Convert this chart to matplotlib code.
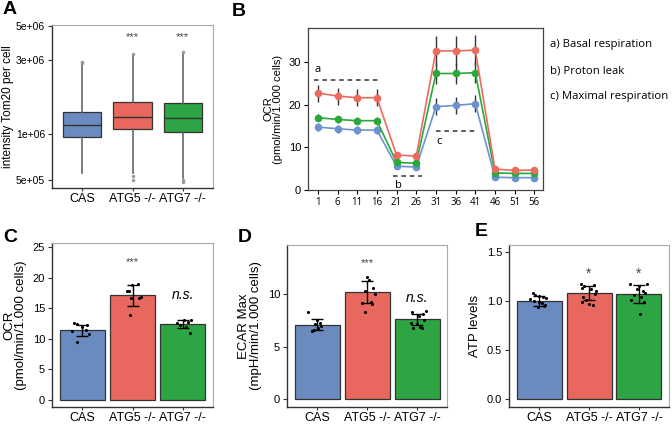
import numpy as np
import matplotlib
matplotlib.use('Agg')
from matplotlib import pyplot as plt

plt.rcParams['font.family'] = ['Liberation Sans', 'DejaVu Sans']

W, H = 672, 426
fig = plt.figure(figsize=(W / 100, H / 100), dpi=100)

def box(x0, y0, x1, y1):
    return fig.add_axes([x0 / W, 1 - y1 / H, (x1 - x0) / W, (y1 - y0) / H])

groups = ['CAS', 'ATG5 -/-', 'ATG7 -/-']
colors = ['#6a8bc0', '#e8675f', '#2ea544']

# A: Tom20 intensity per cell (box stats)
tom20_q1 = [9.5e5, 1.07e6, 1.03e6]
tom20_med = [1.15e6, 1.29e6, 1.26e6]
tom20_q3 = [1.39e6, 1.62e6, 1.58e6]
tom20_lo = [5.55e5, 5.6e5, 5.2e5]
tom20_hi = [2.84e6, 3.25e6, 3.3e6]
tom20_fliers = [[2.9e6, 2.95e6], [3.32e6, 5.3e5, 5.05e5], [3.38e6, 5.0e5, 4.9e5]]

# B: OCR time course
minutes = [1, 6, 11, 16, 21, 26, 31, 36, 41, 46, 51, 56]
ocr_cas = [14.7, 14.3, 14.0, 14.0, 5.5, 5.3, 19.5, 19.8, 20.2, 2.9, 2.8, 2.8]
ocr_cas_err = [1.0, 1.0, 1.0, 1.0, 0.5, 0.5, 2.0, 2.0, 2.0, 0.4, 0.4, 0.4]
ocr_atg5 = [22.7, 22.0, 21.6, 21.6, 8.1, 7.9, 32.6, 32.6, 32.8, 4.8, 4.5, 4.6]
ocr_atg5_err = [2.0, 2.0, 2.0, 2.0, 0.5, 0.5, 3.5, 3.5, 3.5, 0.5, 0.5, 0.5]
ocr_atg7 = [16.9, 16.5, 16.2, 16.2, 6.4, 6.2, 27.3, 27.3, 27.5, 3.9, 3.8, 3.8]
ocr_atg7_err = [0.8, 0.8, 0.8, 0.8, 0.5, 0.5, 2.5, 2.5, 2.5, 0.4, 0.4, 0.4]

# C: basal OCR
ocr_mean = [11.4, 17.1, 12.4]
ocr_err = [0.9, 1.7, 0.6]
ocr_pts_x = [[-0.16, -0.1, 0.0, 0.1, -0.2, 0.08, 0.14, -0.1],
             [-0.11, -0.06, -0.01, 0.1, 0.13, 0.17, -0.02, -0.05],
             [-0.12, 0.02, 0.1, 0.16, -0.05, 0.06, 0.14]]
ocr_pts_y = [[12.6, 12.4, 12.0, 12.3, 11.3, 11.5, 10.8, 9.4],
             [17.8, 17.9, 18.8, 18.95, 16.7, 16.8, 16.6, 13.9],
             [12.5, 13.0, 12.7, 13.1, 12.2, 11.9, 10.9]]

# D: maximal ECAR
ecar_mean = [7.1, 10.2, 7.6]
ecar_err = [0.55, 1.05, 0.55]
ecar_pts_x = [[-0.18, 0.0, 0.05, -0.05, 0.08, 0.02, -0.06, -0.1],
              [0.0, 0.12, -0.04, 0.15, 0.08, -0.1, 0.1, -0.05, 0.03],
              [-0.1, 0.12, 0.17, 0.04, -0.12, 0.14, 0.0, -0.08, 0.06, 0.1]]
ecar_pts_y = [[8.3, 7.5, 7.3, 7.2, 7.0, 6.8, 6.6, 6.5],
              [11.6, 10.6, 10.3, 10.0, 9.3, 9.2, 9.1, 8.3, 11.4],
              [8.3, 8.1, 8.4, 7.9, 7.3, 7.5, 7.2, 6.8, 6.9, 6.8]]

# E: ATP levels
atp_mean = [1.0, 1.08, 1.07]
atp_err = [0.05, 0.07, 0.09]
atp_pts_x = [[-0.12, -0.08, 0.0, 0.08, 0.14, -0.18, -0.1, 0.0, 0.06, 0.12, -0.02, 0.1],
             [-0.16, -0.1, -0.14, 0.1, 0.15, 0.05, -0.12, 0.12, -0.05, 0.0, 0.08, -0.15],
             [-0.18, 0.16, 0.0, -0.04, 0.08, 0.12, -0.1, 0.05, -0.15, 0.1, 0.02]]
atp_pts_y = [[1.08, 1.06, 1.05, 1.04, 1.03, 1.02, 1.0, 0.99, 0.98, 0.96, 0.94, 0.95],
             [1.17, 1.15, 1.13, 1.16, 1.1, 1.12, 1.04, 1.07, 1.01, 0.97, 0.96, 0.99],
             [1.17, 1.17, 1.15, 1.12, 1.1, 1.08, 1.06, 1.04, 1.01, 0.99, 0.87]]

def frame(ax):
    for s in ['left', 'bottom']:
        ax.spines[s].set_color('#333333')
        ax.spines[s].set_linewidth(1.0)
    for s in ['top', 'right']:
        ax.spines[s].set_color('#aaaaaa')
        ax.spines[s].set_linewidth(0.8)
    ax.tick_params(length=3, width=0.8, color='#333333', labelsize=8, pad=2)
    ax.tick_params(axis='x', length=2, labelsize=9, pad=1.5)

# ---- A
axA = box(52, 25, 213, 188)
stats = []
for i in range(3):
    stats.append(dict(q1=tom20_q1[i], med=tom20_med[i], q3=tom20_q3[i],
                      whislo=tom20_lo[i], whishi=tom20_hi[i], fliers=tom20_fliers[i]))
bp = axA.bxp(stats, positions=[1, 2, 3], widths=0.76, patch_artist=True, showcaps=False,
             boxprops=dict(edgecolor='#333333', linewidth=0.9),
             medianprops=dict(color='#333333', linewidth=1.0),
             whiskerprops=dict(color='#666666', linewidth=1.2),
             flierprops=dict(marker='o', markersize=1.5, markerfacecolor='#999999',
                             markeredgecolor='#999999'))
for p, c in zip(bp['boxes'], colors):
    p.set_facecolor(c)
axA.set_yscale('log')
axA.set_ylim(4.45e5, 5.1e6)
axA.set_xlim(0.4, 3.6)
axA.set_yticks([5e5, 1e6, 3e6, 5e6])
axA.set_yticklabels(['5e+05', '1e+06', '3e+06', '5e+06'])
axA.yaxis.set_minor_locator(matplotlib.ticker.NullLocator())
axA.set_xticks([1, 2, 3])
axA.set_xticklabels(groups)
frame(axA)
axA.tick_params(axis='y', labelsize=7.5)
axA.set_ylabel('intensity Tom20 per cell', fontsize=8.5, labelpad=1.5)
for xi in [2, 3]:
    axA.text(xi, 4.25e6, '***', ha='center', va='center', fontsize=8, color='#444444')

# ---- B
axB = box(308, 28, 543, 190)
for vals, errs, c in [(ocr_cas, ocr_cas_err, '#6b93cf'), (ocr_atg7, ocr_atg7_err, '#2aa83a'),
                      (ocr_atg5, ocr_atg5_err, '#ec6a5e')]:
    axB.errorbar(minutes, vals, yerr=errs, color=c, marker='o', ms=4.5, lw=1.2,
                 ecolor='#333333', elinewidth=1.0, capsize=0)
dash = dict(color='#333333', lw=1.1, dashes=(3, 2.5))
axB.plot([0, 17], [25.8, 25.8], **dash)
axB.plot([20, 27.5], [3.3, 3.3], **dash)
axB.plot([31, 41], [13.8, 13.8], **dash)
side_font = ['Open Sans', 'DejaVu Sans']
axB.text(1, 28.3, 'a', fontsize=8, family=side_font, ha='center', va='center')
axB.text(21.5, 1.0, 'b', fontsize=8, family=side_font, ha='center', va='center')
axB.text(31.8, 11.3, 'c', fontsize=8, family=side_font, ha='center', va='center')
axB.set_xlim(-1.5, 58.2)
axB.set_ylim(-0.1, 38)
axB.set_xticks(minutes)
axB.set_xticklabels([str(m) for m in minutes], family=side_font, fontsize=7)
axB.set_yticks([0, 10, 20, 30])
axB.set_ylabel('OCR\n(pmol/min/1.000 cells)', fontsize=8, labelpad=4, linespacing=1.0)
for s in axB.spines.values():
    s.set_color('#444444')
    s.set_linewidth(0.9)
axB.tick_params(length=3, width=0.8, labelsize=8, pad=2)
axB.tick_params(axis='x', labelsize=7)
for yy, t in [(45, 'a) Basal respiration'), (71, 'b) Proton leak'), (96, 'c) Maximal respiration')]:
    fig.text(550 / W, 1 - yy / H, t, family=side_font, fontsize=8.2, va='center', ha='left')

# ---- bar panels
def bars(ax, means, errs, px, py, ylim, yticks, ylabel):
    x = np.arange(1, 4)
    ax.bar(x, means, width=0.9, color=colors, edgecolor='#333333', linewidth=0.9, zorder=1)
    ax.errorbar(x, means, yerr=errs, fmt='none', ecolor='black', elinewidth=1.0,
                capsize=4.5, capthick=1.0, zorder=3)
    for i in range(3):
        ax.scatter(np.array(px[i]) + x[i], py[i], s=5, color='black', zorder=4, linewidths=0)
    ax.set_xlim(0.4, 3.6)
    ax.set_ylim(*ylim)
    ax.set_yticks(yticks)
    ax.set_xticks(x)
    ax.set_xticklabels(groups)
    ax.set_ylabel(ylabel, fontsize=9.5, linespacing=1.0)
    frame(ax)

axC = box(52, 243, 213, 407)
bars(axC, ocr_mean, ocr_err, ocr_pts_x, ocr_pts_y, (-1.2, 25.7), [0, 5, 10, 15, 20, 25],
     'OCR\n(pmol/min/1.000 cells)')
axC.text(2, 22.5, '***', ha='center', va='center', fontsize=8, color='#444444')
axC.text(3, 17.2, 'n.s.', ha='center', va='center', fontsize=10, style='italic')

axD = box(287, 245, 447, 407)
bars(axD, ecar_mean, ecar_err, ecar_pts_x, ecar_pts_y, (-0.76, 14.7), [0, 5, 10],
     'ECAR Max\n(mpH/min/1.000 cells)')
axD.text(2, 13.0, '***', ha='center', va='center', fontsize=8, color='#444444')
axD.text(3, 9.6, 'n.s.', ha='center', va='center', fontsize=10, style='italic')

axE = box(509, 245, 669, 407)
bars(axE, atp_mean, atp_err, atp_pts_x, atp_pts_y, (-0.08, 1.571), [0.0, 0.5, 1.0, 1.5],
     'ATP levels')
axE.set_yticklabels(['0.0', '0.5', '1.0', '1.5'])
for xi in [2, 3]:
    axE.text(xi, 1.28, '*', ha='center', va='center', fontsize=10, color='#444444')

for t, xx, yy in [('A', 3, 10), ('B', 232, 12), ('C', 3, 238), ('D', 238, 238), ('E', 475, 232)]:
    fig.text(xx / W, 1 - yy / H, t, fontsize=14, fontweight='bold', va='center', ha='left')

fig.savefig('out.png', dpi=100)
